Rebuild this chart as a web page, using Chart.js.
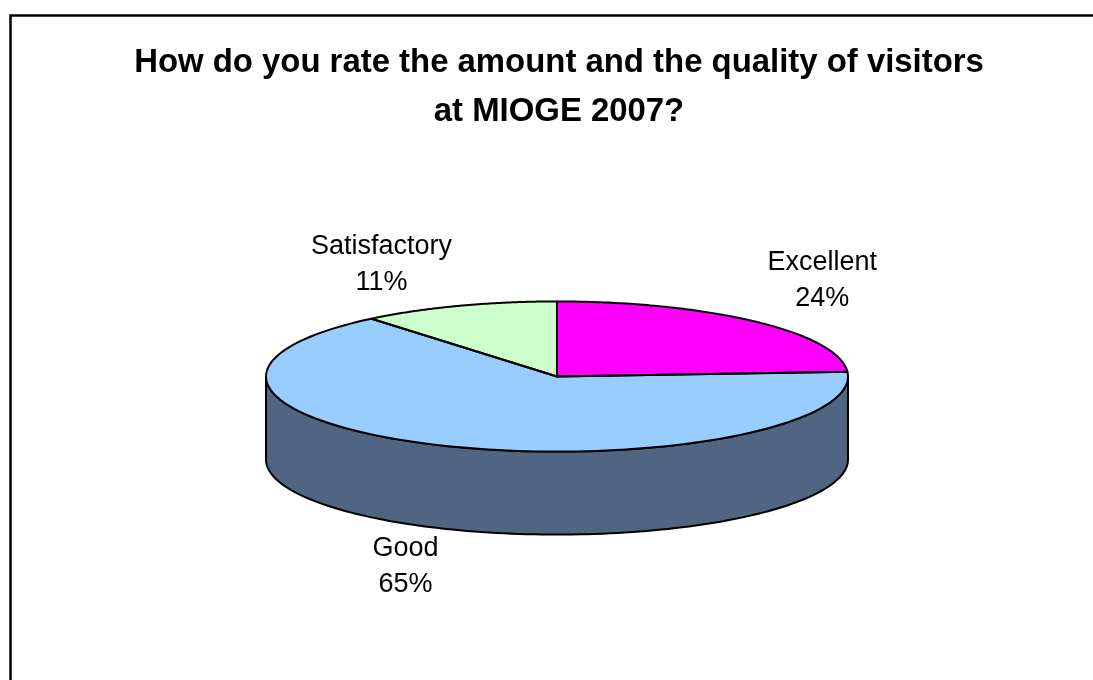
<!DOCTYPE html>
<html>
<head>
<meta charset="utf-8">
<style>
  html, body { margin: 0; padding: 0; background: #ffffff; overflow: hidden; }
  canvas { display: block; }
</style>
<script src="https://cdn.jsdelivr.net/npm/chart.js@4"></script>
</head>
<body>
<canvas id="pie" width="1093" height="680"></canvas>
<script>
//1) DATA//
const categories = ['Excellent', 'Good', 'Satisfactory'];
const shares = [24, 65, 11];
const titleLines = ['How do you rate the amount and the quality of visitors', 'at MIOGE 2007?'];

//2) LOOK//
const topColors = ['#FF00FF', '#99CCFF', '#CCFFCC'];
const wallColors = ['#800080', '#4F6581', '#668066'];
const labelFont = '27px "Liberation Sans", Arial, sans-serif';
const tilt = 0.258;      // flattens the circle into the 3D ellipse
const depth = 83;        // height of the pie wall
const shiftX = -2;       // pie sits 2px left of the title centre
const labelShift = [[66, -41.5], [-36, 38], [-77, -41.5]];

// moves a point from the flat pie to the tilted one
const project = (arc, angle, r, drop) => ({
   x: arc.x + shiftX + Math.cos(angle) * r,
   y: arc.y + Math.sin(angle) * r * tilt + (drop || 0)
});

//3) 3D PIE PLUGIN//
const tiltedPie = {
   id: 'tiltedPie',
   beforeDraw(chart) {
      // frame only has a top and a left side in the original
      const c = chart.ctx;
      c.save();
      c.strokeStyle = '#000000';
      c.lineWidth = 2.5;
      c.beginPath();
      c.moveTo(10.5, 680);
      c.lineTo(10.5, 15.5);
      c.lineTo(1093, 15.5);
      c.stroke();
      c.restore();
   },
   beforeDatasetDraw(chart, args) {
      const c = chart.ctx;
      const arcs = chart.getDatasetMeta(args.index).data;

      // wall: only the part of each slice on the front half of the ellipse
      arcs.forEach((arc, i) => {
         let from = arc.startAngle, to = arc.endAngle;
         const turns = [[0, Math.PI], [Math.PI * 2, Math.PI * 3]];
         turns.forEach(t => {
            const a = Math.max(from, t[0]), b = Math.min(to, t[1]);
            if (b <= a) return;
            c.beginPath();
            for (let s = 0; s <= 120; s++) {
               const p = project(arc, a + (b - a) * s / 120, arc.outerRadius, depth);
               s ? c.lineTo(p.x, p.y) : c.moveTo(p.x, p.y);
            }
            for (let s = 120; s >= 0; s--) {
               const p = project(arc, a + (b - a) * s / 120, arc.outerRadius, 0);
               c.lineTo(p.x, p.y);
            }
            c.closePath();
            c.fillStyle = wallColors[i];
            c.fill();
            c.lineWidth = 2;
            c.strokeStyle = '#000000';
            c.stroke();
         });
      });

      // the library then draws the slices through this transform
      const first = arcs[0];
      c.save();
      c.translate(first.x + shiftX, first.y);
      c.scale(1, tilt);
      c.translate(-first.x, -first.y);
   },
   afterDatasetDraw(chart, args) {
      const c = chart.ctx;
      c.restore();
      const arcs = chart.getDatasetMeta(args.index).data;

      // outlines are stroked flat so the line width stays even
      c.save();
      c.lineWidth = 2;
      c.lineJoin = 'round';
      c.strokeStyle = '#000000';
      arcs.forEach(arc => {
         const mid = project(arc, 0, 0);
         c.beginPath();
         c.moveTo(mid.x, mid.y);
         for (let s = 0; s <= 120; s++) {
            const p = project(arc, arc.startAngle + (arc.endAngle - arc.startAngle) * s / 120, arc.outerRadius);
            c.lineTo(p.x, p.y);
         }
         c.closePath();
         c.stroke();
      });

      // data labels
      c.fillStyle = '#000000';
      c.font = labelFont;
      c.textAlign = 'center';
      c.textBaseline = 'middle';
      arcs.forEach((arc, i) => {
         const angle = (arc.startAngle + arc.endAngle) / 2;
         const front = Math.sin(angle) > 0;
         const edge = project(arc, angle, arc.outerRadius, front ? depth : 0);
         const x = edge.x + labelShift[i][0];
         const y = edge.y + labelShift[i][1];
         c.fillText(categories[i], x, y - 18);
         c.fillText(shares[i] + '%', x, y + 18.5);
      });
      c.restore();
   }
};

//4) CHART//
new Chart(document.getElementById('pie').getContext('2d'), {
   type: 'pie',
   data: {
      labels: categories,
      datasets: [{
         data: shares,
         backgroundColor: topColors,
         borderWidth: 0,
         hoverOffset: 0,
         clip: false
      }]
   },
   options: {
      responsive: false,
      animation: false,
      events: [],
      radius: 291,
      layout: { padding: { left: 25, right: 0, top: 38, bottom: 63 } },
      plugins: {
         legend: { display: false },
         tooltip: { enabled: false },
         title: {
            display: true,
            text: titleLines,
            color: '#000000',
            font: { family: '"Liberation Sans", Arial, sans-serif', size: 32.9, weight: 'bold', lineHeight: 1.49 },
            padding: { top: 0, bottom: 0 }
         }
      }
   },
   plugins: [tiltedPie]
});
</script>
</body>
</html>
